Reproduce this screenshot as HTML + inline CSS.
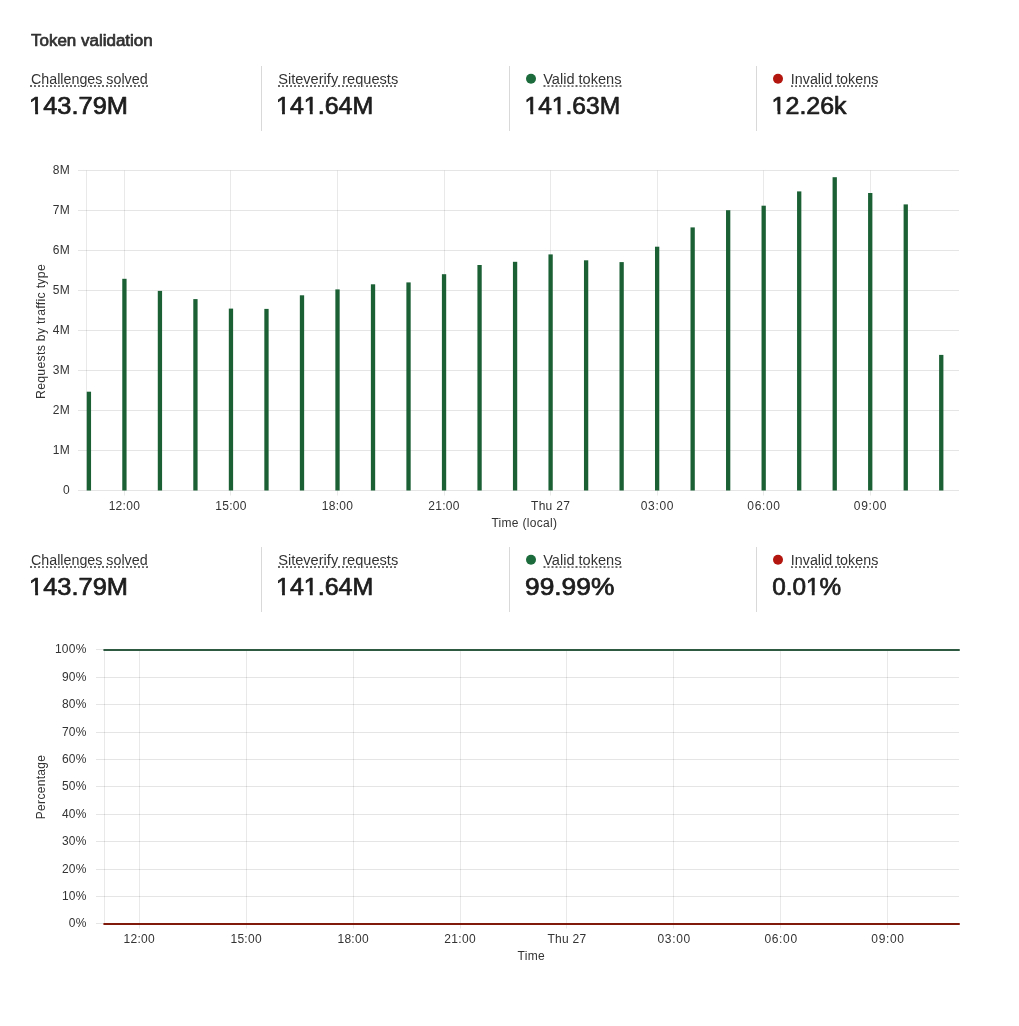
<!DOCTYPE html>
<html lang="en"><head><meta charset="utf-8"><title>Token validation</title>
<style>
html,body{margin:0;padding:0;background:#fff;}
body{width:1019px;height:1026px;overflow:hidden;position:relative;font-family:'Liberation Sans', Arial, sans-serif;}
svg{position:absolute;left:0;top:0;display:block;}
text{font-family:'Liberation Sans', Arial, sans-serif;}
.ax{font-size:12px;fill:#333333;letter-spacing:0.3px;}
.lbl{font-size:14px;fill:#333333;stroke:#fff;stroke-width:2.6px;stroke-linejoin:round;paint-order:stroke fill;}
.num{font-size:23px;font-weight:400;fill:#1d1d1d;stroke:#1d1d1d;stroke-width:0.7px;stroke-linejoin:round;}
.ttl{font-size:16px;font-weight:400;fill:#313131;stroke:#313131;stroke-width:0.7px;stroke-linejoin:round;}
</style></head><body>
<svg width="1019" height="1026" viewBox="0 0 1019 1026">
<text class="ttl" x="31" y="46" textLength="121.7" lengthAdjust="spacingAndGlyphs">Token validation</text>
<line x1="30" y1="86.0" x2="148" y2="86.0" stroke="#333" stroke-width="1.7" stroke-dasharray="2 2"/>
<text class="lbl" x="31" y="83.8" textLength="116.6" lengthAdjust="spacingAndGlyphs">Challenges solved</text>
<text class="num" x="29.1" y="113.6" textLength="98.9" lengthAdjust="spacingAndGlyphs">143.79M</text>
<rect x="29.49" y="110.93" width="5.65" height="4.47" fill="#fff"/>
<rect x="38.09" y="110.93" width="5.46" height="4.47" fill="#fff"/>
<line x1="261.5" y1="66" x2="261.5" y2="131" stroke="#d9d9d9" stroke-width="1"/>
<line x1="278" y1="86.0" x2="396" y2="86.0" stroke="#333" stroke-width="1.7" stroke-dasharray="2 2"/>
<text class="lbl" x="278.2" y="83.8" textLength="120.0" lengthAdjust="spacingAndGlyphs">Siteverify requests</text>
<text class="num" x="276.1" y="113.6" textLength="97.2" lengthAdjust="spacingAndGlyphs">141.64M</text>
<rect x="276.45" y="110.93" width="5.58" height="4.47" fill="#fff"/>
<rect x="284.94" y="110.93" width="5.38" height="4.47" fill="#fff"/>
<rect x="304.23" y="110.93" width="5.58" height="4.47" fill="#fff"/>
<rect x="312.72" y="110.93" width="5.38" height="4.47" fill="#fff"/>
<line x1="509.5" y1="66" x2="509.5" y2="131" stroke="#d9d9d9" stroke-width="1"/>
<circle cx="531" cy="78.8" r="5" fill="#1c6b3c"/>
<line x1="543.5" y1="86.0" x2="621.5" y2="86.0" stroke="#333" stroke-width="1.7" stroke-dasharray="2 2"/>
<text class="lbl" x="543.2" y="83.8" textLength="78.3" lengthAdjust="spacingAndGlyphs">Valid tokens</text>
<text class="num" x="524.5" y="113.6" textLength="95.7" lengthAdjust="spacingAndGlyphs">141.63M</text>
<rect x="524.82" y="110.93" width="5.51" height="4.47" fill="#fff"/>
<rect x="533.21" y="110.93" width="5.32" height="4.47" fill="#fff"/>
<rect x="552.18" y="110.93" width="5.51" height="4.47" fill="#fff"/>
<rect x="560.56" y="110.93" width="5.32" height="4.47" fill="#fff"/>
<line x1="756.5" y1="66" x2="756.5" y2="131" stroke="#d9d9d9" stroke-width="1"/>
<circle cx="778" cy="78.8" r="5" fill="#b3160e"/>
<line x1="791" y1="86.0" x2="877" y2="86.0" stroke="#333" stroke-width="1.7" stroke-dasharray="2 2"/>
<text class="lbl" x="790.8" y="83.8" textLength="87.5" lengthAdjust="spacingAndGlyphs">Invalid tokens</text>
<text class="num" x="771.6" y="113.6" textLength="75.0" lengthAdjust="spacingAndGlyphs">12.26k</text>
<rect x="771.95" y="110.93" width="5.58" height="4.47" fill="#fff"/>
<rect x="780.44" y="110.93" width="5.38" height="4.47" fill="#fff"/>
<line x1="30" y1="567.0" x2="148" y2="567.0" stroke="#333" stroke-width="1.7" stroke-dasharray="2 2"/>
<text class="lbl" x="31" y="564.8" textLength="116.6" lengthAdjust="spacingAndGlyphs">Challenges solved</text>
<text class="num" x="29.1" y="594.6" textLength="98.9" lengthAdjust="spacingAndGlyphs">143.79M</text>
<rect x="29.49" y="591.93" width="5.65" height="4.47" fill="#fff"/>
<rect x="38.09" y="591.93" width="5.46" height="4.47" fill="#fff"/>
<line x1="261.5" y1="547" x2="261.5" y2="612" stroke="#d9d9d9" stroke-width="1"/>
<line x1="278" y1="567.0" x2="396" y2="567.0" stroke="#333" stroke-width="1.7" stroke-dasharray="2 2"/>
<text class="lbl" x="278.2" y="564.8" textLength="120.0" lengthAdjust="spacingAndGlyphs">Siteverify requests</text>
<text class="num" x="276.1" y="594.6" textLength="97.2" lengthAdjust="spacingAndGlyphs">141.64M</text>
<rect x="276.45" y="591.93" width="5.58" height="4.47" fill="#fff"/>
<rect x="284.94" y="591.93" width="5.38" height="4.47" fill="#fff"/>
<rect x="304.23" y="591.93" width="5.58" height="4.47" fill="#fff"/>
<rect x="312.72" y="591.93" width="5.38" height="4.47" fill="#fff"/>
<line x1="509.5" y1="547" x2="509.5" y2="612" stroke="#d9d9d9" stroke-width="1"/>
<circle cx="531" cy="559.8" r="5" fill="#1c6b3c"/>
<line x1="543.5" y1="567.0" x2="621.5" y2="567.0" stroke="#333" stroke-width="1.7" stroke-dasharray="2 2"/>
<text class="lbl" x="543.2" y="564.8" textLength="78.3" lengthAdjust="spacingAndGlyphs">Valid tokens</text>
<text class="num" x="525.0" y="594.6" textLength="89.3" lengthAdjust="spacingAndGlyphs">99.99%</text>
<line x1="756.5" y1="547" x2="756.5" y2="612" stroke="#d9d9d9" stroke-width="1"/>
<circle cx="778" cy="559.8" r="5" fill="#b3160e"/>
<line x1="791" y1="567.0" x2="877" y2="567.0" stroke="#333" stroke-width="1.7" stroke-dasharray="2 2"/>
<text class="lbl" x="790.8" y="564.8" textLength="87.5" lengthAdjust="spacingAndGlyphs">Invalid tokens</text>
<text class="num" x="772.2" y="594.6" textLength="69.0" lengthAdjust="spacingAndGlyphs">0.01%</text>
<rect x="806.33" y="591.93" width="5.47" height="4.47" fill="#fff"/>
<rect x="814.65" y="591.93" width="5.28" height="4.47" fill="#fff"/>
<line x1="78" y1="490.5" x2="959.0" y2="490.5" stroke="#000" stroke-opacity="0.1" stroke-width="1"/>
<text class="ax" x="70" y="493.9" text-anchor="end">0</text>
<line x1="78" y1="450.5" x2="959.0" y2="450.5" stroke="#000" stroke-opacity="0.1" stroke-width="1"/>
<text class="ax" x="70" y="453.9" text-anchor="end">1M</text>
<line x1="78" y1="410.5" x2="959.0" y2="410.5" stroke="#000" stroke-opacity="0.1" stroke-width="1"/>
<text class="ax" x="70" y="413.9" text-anchor="end">2M</text>
<line x1="78" y1="370.5" x2="959.0" y2="370.5" stroke="#000" stroke-opacity="0.1" stroke-width="1"/>
<text class="ax" x="70" y="373.9" text-anchor="end">3M</text>
<line x1="78" y1="330.5" x2="959.0" y2="330.5" stroke="#000" stroke-opacity="0.1" stroke-width="1"/>
<text class="ax" x="70" y="333.9" text-anchor="end">4M</text>
<line x1="78" y1="290.5" x2="959.0" y2="290.5" stroke="#000" stroke-opacity="0.1" stroke-width="1"/>
<text class="ax" x="70" y="293.9" text-anchor="end">5M</text>
<line x1="78" y1="250.5" x2="959.0" y2="250.5" stroke="#000" stroke-opacity="0.1" stroke-width="1"/>
<text class="ax" x="70" y="253.9" text-anchor="end">6M</text>
<line x1="78" y1="210.5" x2="959.0" y2="210.5" stroke="#000" stroke-opacity="0.1" stroke-width="1"/>
<text class="ax" x="70" y="213.9" text-anchor="end">7M</text>
<line x1="78" y1="170.5" x2="959.0" y2="170.5" stroke="#000" stroke-opacity="0.1" stroke-width="1"/>
<text class="ax" x="70" y="173.9" text-anchor="end">8M</text>
<line x1="86.5" y1="170.5" x2="86.5" y2="490.5" stroke="#000" stroke-opacity="0.085" stroke-width="1"/>
<line x1="124.5" y1="170.5" x2="124.5" y2="495.5" stroke="#000" stroke-opacity="0.085" stroke-width="1"/>
<text class="ax" x="124.4" y="509.7" text-anchor="middle">12:00</text>
<line x1="230.5" y1="170.5" x2="230.5" y2="495.5" stroke="#000" stroke-opacity="0.085" stroke-width="1"/>
<text class="ax" x="231.0" y="509.7" text-anchor="middle">15:00</text>
<line x1="337.5" y1="170.5" x2="337.5" y2="495.5" stroke="#000" stroke-opacity="0.085" stroke-width="1"/>
<text class="ax" x="337.5" y="509.7" text-anchor="middle">18:00</text>
<line x1="444.5" y1="170.5" x2="444.5" y2="495.5" stroke="#000" stroke-opacity="0.085" stroke-width="1"/>
<text class="ax" x="444.0" y="509.7" text-anchor="middle">21:00</text>
<line x1="550.5" y1="170.5" x2="550.5" y2="495.5" stroke="#000" stroke-opacity="0.085" stroke-width="1"/>
<text class="ax" x="550.6" y="509.7" text-anchor="middle">Thu 27</text>
<line x1="657.5" y1="170.5" x2="657.5" y2="495.5" stroke="#000" stroke-opacity="0.085" stroke-width="1"/>
<text class="ax" x="657.4" y="509.7" text-anchor="middle" style="letter-spacing:0.65px">03:00</text>
<line x1="763.5" y1="170.5" x2="763.5" y2="495.5" stroke="#000" stroke-opacity="0.085" stroke-width="1"/>
<text class="ax" x="764.0" y="509.7" text-anchor="middle" style="letter-spacing:0.65px">06:00</text>
<line x1="870.5" y1="170.5" x2="870.5" y2="495.5" stroke="#000" stroke-opacity="0.085" stroke-width="1"/>
<text class="ax" x="870.5" y="509.7" text-anchor="middle" style="letter-spacing:0.65px">09:00</text>
<text class="ax" x="524.3" y="526.7" text-anchor="middle">Time (local)</text>
<text class="ax" transform="translate(45.3 331.5) rotate(-90)" text-anchor="middle" textLength="135" lengthAdjust="spacingAndGlyphs">Requests by traffic type</text>
<rect x="86.75" y="391.7" width="4.3" height="98.8" fill="#1b6035"/>
<rect x="122.27" y="278.8" width="4.3" height="211.7" fill="#1b6035"/>
<rect x="157.78" y="290.9" width="4.3" height="199.6" fill="#1b6035"/>
<rect x="193.29" y="299.1" width="4.3" height="191.4" fill="#1b6035"/>
<rect x="228.81" y="308.6" width="4.3" height="181.9" fill="#1b6035"/>
<rect x="264.33" y="308.9" width="4.3" height="181.6" fill="#1b6035"/>
<rect x="299.84" y="295.3" width="4.3" height="195.2" fill="#1b6035"/>
<rect x="335.36" y="289.4" width="4.3" height="201.1" fill="#1b6035"/>
<rect x="370.87" y="284.3" width="4.3" height="206.2" fill="#1b6035"/>
<rect x="406.38" y="282.4" width="4.3" height="208.1" fill="#1b6035"/>
<rect x="441.90" y="274.2" width="4.3" height="216.3" fill="#1b6035"/>
<rect x="477.42" y="265.0" width="4.3" height="225.5" fill="#1b6035"/>
<rect x="512.93" y="261.8" width="4.3" height="228.7" fill="#1b6035"/>
<rect x="548.45" y="254.4" width="4.3" height="236.1" fill="#1b6035"/>
<rect x="583.96" y="260.3" width="4.3" height="230.2" fill="#1b6035"/>
<rect x="619.48" y="262.1" width="4.3" height="228.4" fill="#1b6035"/>
<rect x="654.99" y="246.7" width="4.3" height="243.8" fill="#1b6035"/>
<rect x="690.50" y="227.4" width="4.3" height="263.1" fill="#1b6035"/>
<rect x="726.02" y="210.2" width="4.3" height="280.3" fill="#1b6035"/>
<rect x="761.53" y="205.7" width="4.3" height="284.8" fill="#1b6035"/>
<rect x="797.05" y="191.4" width="4.3" height="299.1" fill="#1b6035"/>
<rect x="832.57" y="177.2" width="4.3" height="313.3" fill="#1b6035"/>
<rect x="868.08" y="193.0" width="4.3" height="297.5" fill="#1b6035"/>
<rect x="903.60" y="204.4" width="4.3" height="286.1" fill="#1b6035"/>
<rect x="939.11" y="354.9" width="4.3" height="135.6" fill="#1b6035"/>
<line x1="96" y1="923.5" x2="959.0" y2="923.5" stroke="#000" stroke-opacity="0.1" stroke-width="1"/>
<text class="ax" x="86.8" y="926.7" text-anchor="end">0%</text>
<line x1="96" y1="896.5" x2="959.0" y2="896.5" stroke="#000" stroke-opacity="0.1" stroke-width="1"/>
<text class="ax" x="86.8" y="899.7" text-anchor="end">10%</text>
<line x1="96" y1="869.5" x2="959.0" y2="869.5" stroke="#000" stroke-opacity="0.1" stroke-width="1"/>
<text class="ax" x="86.8" y="872.7" text-anchor="end">20%</text>
<line x1="96" y1="841.5" x2="959.0" y2="841.5" stroke="#000" stroke-opacity="0.1" stroke-width="1"/>
<text class="ax" x="86.8" y="844.7" text-anchor="end">30%</text>
<line x1="96" y1="814.5" x2="959.0" y2="814.5" stroke="#000" stroke-opacity="0.1" stroke-width="1"/>
<text class="ax" x="86.8" y="817.7" text-anchor="end">40%</text>
<line x1="96" y1="786.5" x2="959.0" y2="786.5" stroke="#000" stroke-opacity="0.1" stroke-width="1"/>
<text class="ax" x="86.8" y="789.7" text-anchor="end">50%</text>
<line x1="96" y1="759.5" x2="959.0" y2="759.5" stroke="#000" stroke-opacity="0.1" stroke-width="1"/>
<text class="ax" x="86.8" y="762.7" text-anchor="end">60%</text>
<line x1="96" y1="732.5" x2="959.0" y2="732.5" stroke="#000" stroke-opacity="0.1" stroke-width="1"/>
<text class="ax" x="86.8" y="735.7" text-anchor="end">70%</text>
<line x1="96" y1="704.5" x2="959.0" y2="704.5" stroke="#000" stroke-opacity="0.1" stroke-width="1"/>
<text class="ax" x="86.8" y="707.7" text-anchor="end">80%</text>
<line x1="96" y1="677.5" x2="959.0" y2="677.5" stroke="#000" stroke-opacity="0.1" stroke-width="1"/>
<text class="ax" x="86.8" y="680.7" text-anchor="end">90%</text>
<line x1="96" y1="649.5" x2="959.0" y2="649.5" stroke="#000" stroke-opacity="0.1" stroke-width="1"/>
<text class="ax" x="86.8" y="652.7" text-anchor="end">100%</text>
<line x1="104.5" y1="649.5" x2="104.5" y2="923.5" stroke="#000" stroke-opacity="0.085" stroke-width="1"/>
<line x1="139.5" y1="649.5" x2="139.5" y2="928.5" stroke="#000" stroke-opacity="0.085" stroke-width="1"/>
<text class="ax" x="139.3" y="943" text-anchor="middle">12:00</text>
<line x1="246.5" y1="649.5" x2="246.5" y2="928.5" stroke="#000" stroke-opacity="0.085" stroke-width="1"/>
<text class="ax" x="246.2" y="943" text-anchor="middle">15:00</text>
<line x1="353.5" y1="649.5" x2="353.5" y2="928.5" stroke="#000" stroke-opacity="0.085" stroke-width="1"/>
<text class="ax" x="353.2" y="943" text-anchor="middle">18:00</text>
<line x1="460.5" y1="649.5" x2="460.5" y2="928.5" stroke="#000" stroke-opacity="0.085" stroke-width="1"/>
<text class="ax" x="460.1" y="943" text-anchor="middle">21:00</text>
<line x1="566.5" y1="649.5" x2="566.5" y2="928.5" stroke="#000" stroke-opacity="0.085" stroke-width="1"/>
<text class="ax" x="567.0" y="943" text-anchor="middle">Thu 27</text>
<line x1="673.5" y1="649.5" x2="673.5" y2="928.5" stroke="#000" stroke-opacity="0.085" stroke-width="1"/>
<text class="ax" x="674.2" y="943" text-anchor="middle" style="letter-spacing:0.65px">03:00</text>
<line x1="780.5" y1="649.5" x2="780.5" y2="928.5" stroke="#000" stroke-opacity="0.085" stroke-width="1"/>
<text class="ax" x="781.1" y="943" text-anchor="middle" style="letter-spacing:0.65px">06:00</text>
<line x1="887.5" y1="649.5" x2="887.5" y2="928.5" stroke="#000" stroke-opacity="0.085" stroke-width="1"/>
<text class="ax" x="888.0" y="943" text-anchor="middle" style="letter-spacing:0.65px">09:00</text>
<text class="ax" x="531.3" y="959.6" text-anchor="middle">Time</text>
<text class="ax" transform="translate(45.3 787) rotate(-90)" text-anchor="middle">Percentage</text>
<line x1="104.2" y1="650" x2="959.0" y2="650" stroke="#2d5a41" stroke-width="2" stroke-linecap="round"/>
<line x1="104.2" y1="924" x2="959.0" y2="924" stroke="#801a0a" stroke-width="2" stroke-linecap="round"/>
</svg>
</body></html>
